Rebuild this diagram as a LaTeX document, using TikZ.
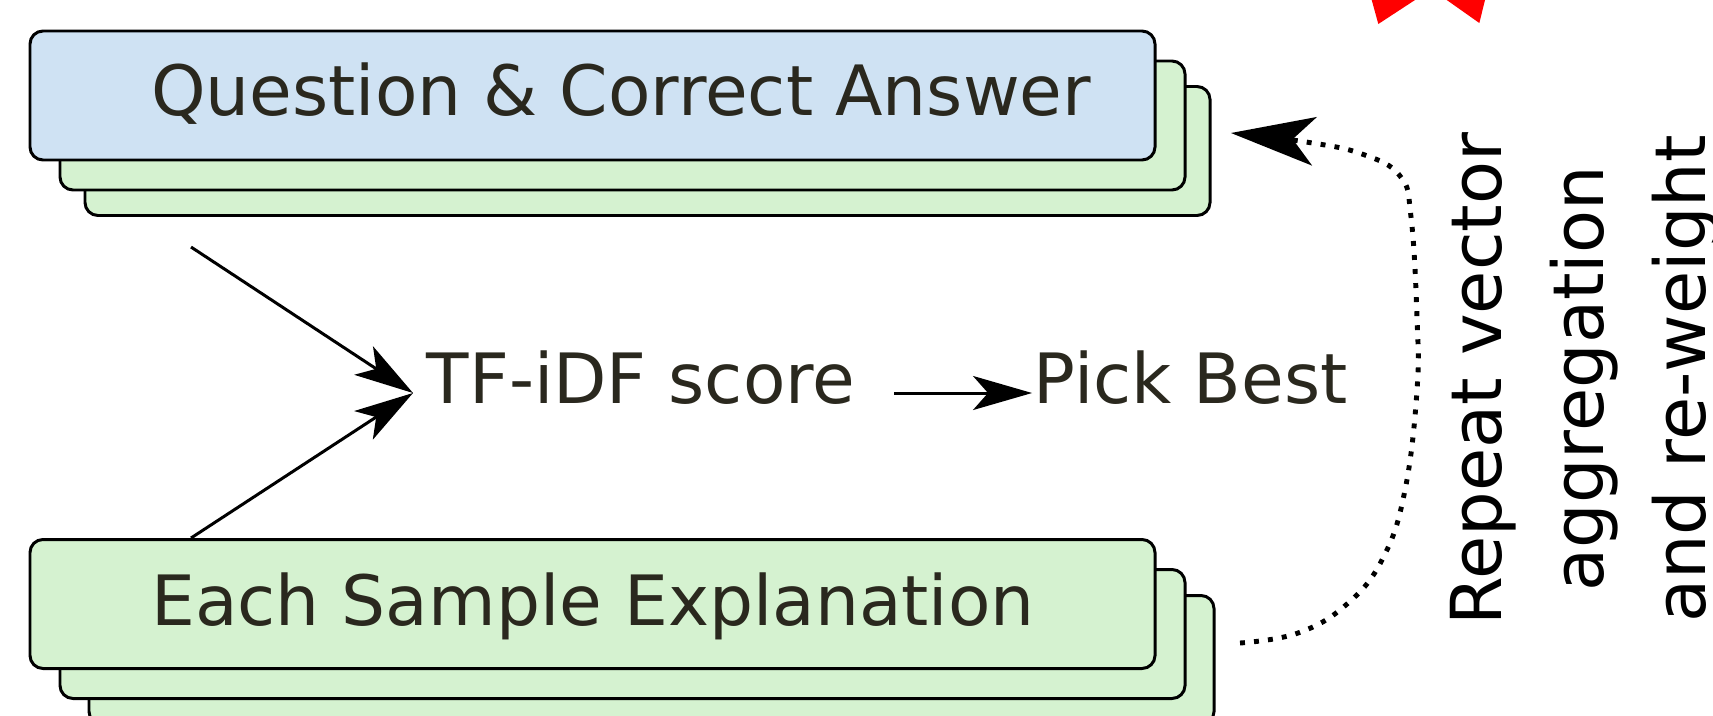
\documentclass[tikz,border=0pt]{standalone}
\usepackage{fontspec}
\setmainfont{DejaVu Sans}
\usepackage{xcolor}
\definecolor{qblue}{RGB}{207,226,243}
\definecolor{sgreen}{RGB}{213,242,208}
\definecolor{txtdark}{RGB}{42,40,30}
\definecolor{markred}{RGB}{255,0,0}
\usepackage{tikz}
\usetikzlibrary{arrows.meta, positioning, calc}

\begin{document}
\begin{tikzpicture}[
  card/.style={draw=black, line width=0.85pt, rounded corners=0.13cm,
    minimum width=11.25cm, minimum height=1.29cm, inner sep=0pt},
  cardtext/.style={font=\fontsize{19.75}{24}\selectfont, txtdark, inner sep=0pt, anchor=base west},
  flowtext/.style={font=\fontsize{19.75}{24}\selectfont, txtdark, inner sep=0.13cm,
    text height=0.66em, text depth=0.08em},
  flow/.style={-{Stealth[length=0.59cm, width=0.34cm, inset=0.15cm]}, line width=0.85pt},
  loopback/.style={-{Stealth[length=0.84cm, width=0.49cm, inset=0.22cm, line width=0pt]},
    line width=1.4pt, dash pattern=on 1.4pt off 2.6pt}
]
  \useasboundingbox (0,0) rectangle (17.13,7.15);

  % --- Question stack ---
  \node[card, fill=sgreen] (qa3) at (6.475,5.64) {};
  \node[card, fill=sgreen] (qa2) at (6.225,5.895) {};
  \node[card, fill=qblue] (qa) at (5.925,6.195) {};
  \node[cardtext] (qatext) at ($(qa.west)+(1.22,-0.20)$) {Question \& Correct Answer};

  % --- Sample stack ---
  \node[card, fill=sgreen] (es3) at (6.515,0.55) {};
  \node[card, fill=sgreen] (es2) at (6.225,0.81) {};
  \node[card, fill=sgreen] (es) at (5.925,1.11) {};
  \node[cardtext] (estext) at ($(es.west)+(1.22,-0.21)$) {Each Sample Explanation};

  % Scoring and selection
  \node[flowtext, anchor=west] (tfidf) at (4.13,3.22) {TF-iDF score};
  \node[flowtext, right=1.51cm of tfidf] (pick) {Pick Best};

  \coordinate (qaout) at (1.91,4.68);
  \draw[flow] (qaout) -- (tfidf.west);
  \draw[flow] (qaout |- es.north) -- (tfidf.west);
  \draw[flow, shorten <=0.25cm] (tfidf) -- ([xshift=0.12cm]pick.west);

  % Loop back to the question
  \coordinate (loopstart) at (12.40,0.72);
  \coordinate (loopend) at (12.31,5.82);
  \draw[loopback] plot[smooth, tension=0.7] coordinates {
    (loopstart) (12.98,0.82) (13.47,1.11) (13.83,1.57) (14.05,2.25)
    (14.17,3.25) (14.17,3.97) (14.11,4.98) (14.00,5.39) (13.62,5.61)
    (13.06,5.73) (loopend)};

  \node[font=\fontsize{20}{29}\selectfont, rotate=90, align=center, inner sep=0pt]
    (repeatnote) at (15.85,3.36) {Repeat vector\\aggregation\\and re-weight};

  % Red marks along the top edge
  \fill[markred] (13.717,7.15) -- (13.783,6.91) -- (14.15,7.15) -- cycle;
  \fill[markred] (14.467,7.15) -- (14.793,6.92) -- (14.85,7.15) -- cycle;
\end{tikzpicture}
\end{document}
